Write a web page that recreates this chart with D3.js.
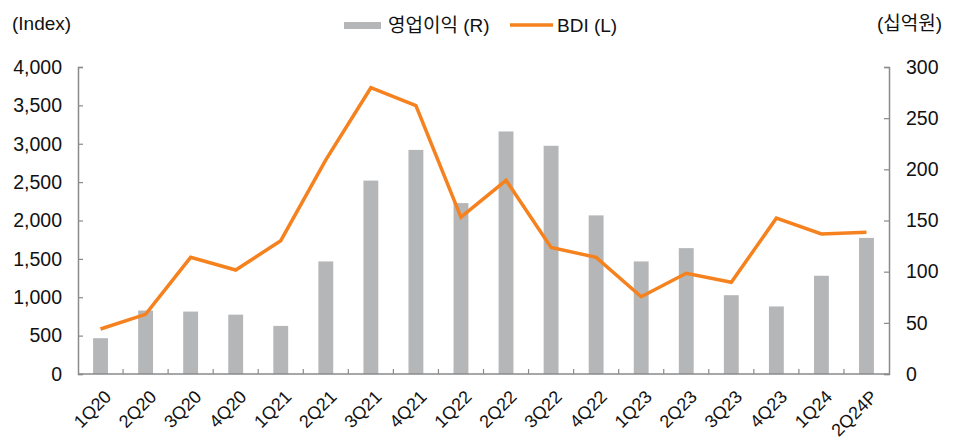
<!DOCTYPE html>
<html>
<head>
<meta charset="utf-8">
<script src="https://cdn.jsdelivr.net/npm/d3@7"></script>
<style>
  body { margin: 0; background: #fff; }
  #chart { width: 959px; height: 443px; }
  text { font-family: "Liberation Sans", "Noto Sans CJK KR", sans-serif; fill: #111; }
</style>
</head>
<body>
<div id="chart"></div>
<script>
// quarters on the x axis
const quarters = ["1Q20","2Q20","3Q20","4Q20","1Q21","2Q21","3Q21","4Q21","1Q22","2Q22",
                  "3Q22","4Q22","1Q23","2Q23","3Q23","4Q23","1Q24","2Q24P"];
// 영업이익 (십억원, right axis)
const profit = [35, 62, 61, 58, 47, 110, 189, 219, 167, 237, 223, 155, 110, 123, 77, 66, 96, 133];
// BDI (index, left axis)
const bdi = [586, 778, 1520, 1355, 1737, 2790, 3730, 3496, 2045, 2524, 1650, 1520, 1007, 1312, 1195, 2030, 1824, 1846];
const leftTicks = [0, 500, 1000, 1500, 2000, 2500, 3000, 3500, 4000];
const rightTicks = [0, 50, 100, 150, 200, 250, 300];

const width = 959, height = 443;
const margin = {top: 67, left: 78, right: 70, bottom: 69};

const svg = d3.select("#chart").append("svg")
    .attr("width", width)
    .attr("height", height);

const xScale = d3.scaleBand()
    .domain(quarters)
    .range([margin.left, width - margin.right])
    .paddingInner(0.67)
    .paddingOuter(0.335);

const xPos = d3.scalePoint()
    .domain(quarters)
    .range([margin.left, width - margin.right])
    .padding(0.5);

const yLeft = d3.scaleLinear().domain([0, 4000]).range([height - margin.bottom, margin.top]);
const yRight = d3.scaleLinear().domain([0, 300]).range([height - margin.bottom, margin.top]);

/* BARS */
svg.selectAll("rect.bar")
    .data(profit)
    .enter()
    .append("rect")
    .attr("class", "bar")
    .attr("x", (d, i) => xScale(quarters[i]))
    .attr("width", xScale.bandwidth())
    .attr("y", d => yRight(d))
    .attr("height", d => yRight(0) - yRight(d))
    .attr("fill", "#b5b6b8");

/* LINE */
const line = d3.line()
    .x((d, i) => xPos(quarters[i]))
    .y(d => yLeft(d));

svg.append("path")
    .datum(bdi)
    .attr("d", line)
    .attr("fill", "none")
    .attr("stroke", "#f5821f")
    .attr("stroke-width", 3.5)
    .attr("stroke-linejoin", "miter");

/* AXES */
const axisColor = "#8a8a8a";

const leftAxis = svg.append("g")
    .attr("transform", `translate(${margin.left},0)`)
    .call(d3.axisLeft(yLeft).tickValues(leftTicks).tickSize(-5).tickPadding(16).tickFormat(d3.format(",")));

const rightAxis = svg.append("g")
    .attr("transform", `translate(${width - margin.right},0)`)
    .call(d3.axisRight(yRight).tickValues(rightTicks).tickSize(-5).tickPadding(17));

// x axis: ticks between categories
const bounds = d3.range(quarters.length + 1).map(i => margin.left + i * xPos.step());
const xAxis = svg.append("g");
xAxis.append("line")
    .attr("x1", margin.left).attr("x2", width - margin.right)
    .attr("y1", yLeft(0)).attr("y2", yLeft(0))
    .attr("stroke", axisColor).attr("stroke-width", 1.5);
xAxis.selectAll("line.tick")
    .data(bounds.slice(1, -1))
    .enter().append("line")
    .attr("class", "tick")
    .attr("x1", d => d).attr("x2", d => d)
    .attr("y1", yLeft(0)).attr("y2", yLeft(0) - 5)
    .attr("stroke", axisColor).attr("stroke-width", 1.2);

xAxis.selectAll("text")
    .data(quarters)
    .enter().append("text")
    .attr("transform", d => `translate(${xPos(d) + 3},${yLeft(0) + 15}) rotate(-45)`)
    .attr("text-anchor", "end")
    .attr("dy", "0.7em")
    .style("font-size", "18px")
    .text(d => d);

[leftAxis, rightAxis].forEach(ax => {
    ax.select(".domain").attr("stroke", axisColor).attr("stroke-width", 1.5);
    ax.selectAll(".tick line").attr("stroke", axisColor).attr("stroke-width", 1.2);
    ax.selectAll(".tick text").style("font-size", "19.5px").attr("fill", "#111");
});

/* UNIT LABELS */
svg.append("text").attr("x", 12).attr("y", 30).style("font-size", "19px").text("(Index)");
svg.append("text").attr("x", 942).attr("y", 30).attr("text-anchor", "end").style("font-size", "19px").text("(십억원)");

/* LEGEND */
const legend = svg.append("g");
legend.append("rect").attr("x", 344).attr("y", 22).attr("width", 37).attr("height", 7).attr("fill", "#b5b6b8");
legend.append("text").attr("x", 388).attr("y", 32).style("font-size", "19px").text("영업이익 (R)");
legend.append("line").attr("x1", 510).attr("x2", 553).attr("y1", 25).attr("y2", 25)
    .attr("stroke", "#f5821f").attr("stroke-width", 3.5);
legend.append("text").attr("x", 557).attr("y", 32).style("font-size", "19px").text("BDI (L)");
</script>
</body>
</html>
